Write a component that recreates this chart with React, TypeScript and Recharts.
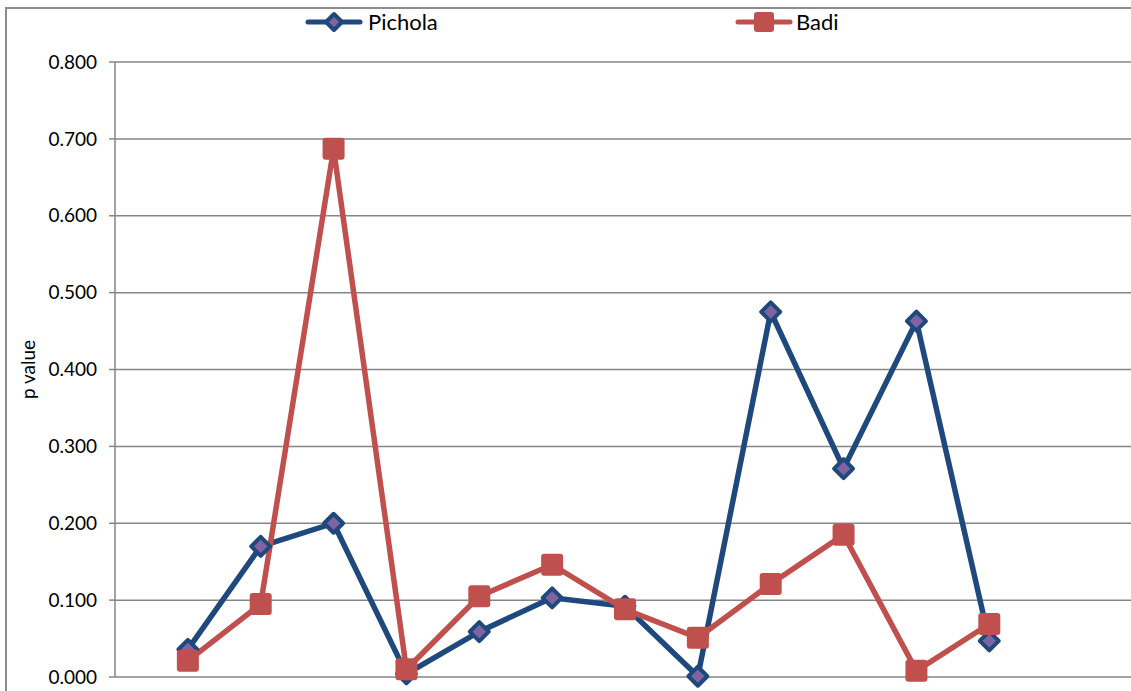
import React from "react";
import { LineChart, Line, XAxis, YAxis, CartesianGrid, Legend } from "recharts";

const positions = [1, 2, 3, 4, 5, 6, 7, 8, 9, 10, 11, 12];
const pichola = [0.036, 0.17, 0.2, 0.004, 0.059, 0.103, 0.092, 0.001, 0.475, 0.271, 0.463, 0.047];
const badi = [0.021, 0.095, 0.687, 0.01, 0.105, 0.146, 0.088, 0.051, 0.121, 0.185, 0.008, 0.069];
const yTicks = [0, 0.1, 0.2, 0.3, 0.4, 0.5, 0.6, 0.7, 0.8];

const BLUE = "#1F497D";
const PURPLE = "#8064A2";
const RED = "#C0504D";
const FONT = "Lato, 'Open Sans', sans-serif";

const data = positions.map((x, i) => ({ x, pichola: pichola[i], badi: badi[i] }));

const Diamond = (props: any) => {
  const { cx, cy, index } = props;
  if (cx == null || cy == null) return <g key={index} />;
  const r = 9.5;
  return (
    <path
      key={index}
      d={`M${cx},${cy - r} L${cx + r},${cy} L${cx},${cy + r} L${cx - r},${cy} Z`}
      fill={PURPLE}
      stroke={BLUE}
      strokeWidth={4}
      strokeLinejoin="round"
    />
  );
};

const Square = (props: any) => {
  const { cx, cy, index } = props;
  if (cx == null || cy == null) return <g key={index} />;
  const s = 22;
  return <rect key={index} x={cx - s / 2} y={cy - s / 2} width={s} height={s} rx={3} fill={RED} />;
};

const LegendContent = () => (
  <div style={{ position: "relative", height: 40, fontFamily: FONT, fontSize: 22, color: "#000" }}>
    <div style={{ position: "absolute", left: 305, top: 4, display: "flex", alignItems: "center" }}>
      <svg width={58} height={24}>
        <line x1={3} y1={12} x2={55} y2={12} stroke={BLUE} strokeWidth={5} strokeLinecap="round" />
        <path d="M29,4 L37,12 L29,20 L21,12 Z" fill={PURPLE} stroke={BLUE} strokeWidth={4} strokeLinejoin="round" />
      </svg>
      <span style={{ marginLeft: 5 }}>Pichola</span>
    </div>
    <div style={{ position: "absolute", left: 735, top: 4, display: "flex", alignItems: "center" }}>
      <svg width={58} height={24}>
        <line x1={3} y1={12} x2={55} y2={12} stroke={RED} strokeWidth={5} strokeLinecap="round" />
        <rect x={19} y={2} width={20} height={20} rx={3} fill={RED} />
      </svg>
      <span style={{ marginLeft: 3 }}>Badi</span>
    </div>
  </div>
);

export default function App() {
  return (
    <div style={{ position: "absolute", left: 0, top: 0, width: 1131, height: 691, overflow: "hidden", background: "#fff" }}>
      <div style={{ position: "absolute", left: 0, top: 0 }}>
        <LineChart width={1140} height={720} data={data} margin={{ top: 22, right: 5, bottom: 43, left: 0 }}>
          <CartesianGrid vertical={false} stroke="#868686" strokeWidth={1.5} />
          <XAxis type="number" dataKey="x" domain={[0, 14]} hide />
          <YAxis
            width={115}
            domain={[0, 0.8]}
            ticks={yTicks}
            tickFormatter={(v: number) => v.toFixed(3)}
            tick={{ fontSize: 19, fill: "#000", fontFamily: FONT }}
            tickSize={6}
            tickMargin={12}
            axisLine={{ stroke: "#868686", strokeWidth: 1.5 }}
            tickLine={{ stroke: "#868686", strokeWidth: 1.5 }}
            label={{
              value: "p value",
              angle: -90,
              position: "insideLeft",
              offset: 28,
              style: { fontSize: 19, fill: "#000", fontFamily: FONT, textAnchor: "middle" },
            }}
          />
          <Legend verticalAlign="top" content={<LegendContent />} wrapperStyle={{ top: 4, left: 0, width: 1140 }} />
          <Line
            type="linear"
            dataKey="pichola"
            name="Pichola"
            stroke={BLUE}
            strokeWidth={5.5}
            dot={<Diamond />}
            activeDot={false}
            isAnimationActive={false}
          />
          <Line
            type="linear"
            dataKey="badi"
            name="Badi"
            stroke={RED}
            strokeWidth={5.5}
            dot={<Square />}
            activeDot={false}
            isAnimationActive={false}
          />
        </LineChart>
      </div>
      <div
        style={{
          position: "absolute",
          left: 5,
          top: 7,
          width: 1200,
          height: 800,
          borderLeft: "2px solid #8c8c8c",
          borderTop: "2px solid #8c8c8c",
          pointerEvents: "none",
        }}
      />
    </div>
  );
}
